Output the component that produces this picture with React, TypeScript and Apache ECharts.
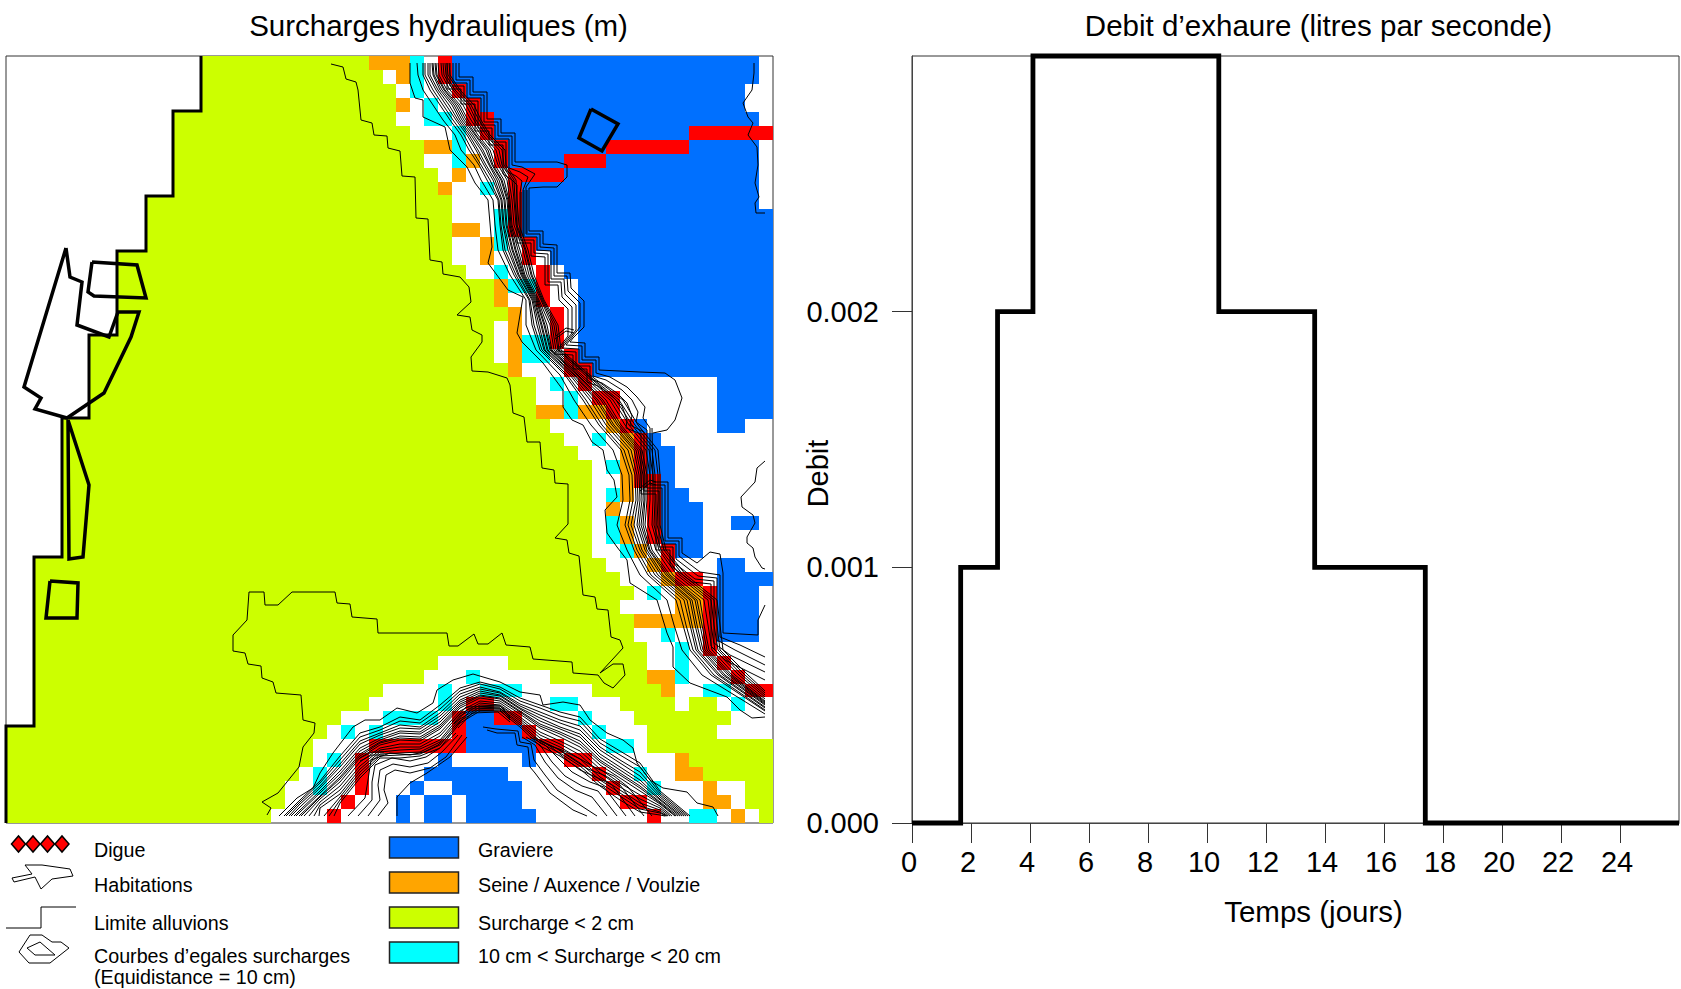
import React, { useEffect, useRef } from "react";
import * as echarts from "echarts";

const FONT = '"Liberation Sans", Arial, sans-serif';

const cellRows = [
"g14 o26 c29 w30 r31 b32 w54",
"g14 w27 o28 c29 w30 r31 b32 w54",
"g14 w28 c29 w30 r32 b33 w53",
"g14 o28 w29 c30 w31 r33 b34 w53",
"g12 w28 c30 w32 r33 b35 w54",
"g12 w29 c32 w33 r34 b35 r49",
"g12 o30 c32 w33 r35 b36 r43 b49 w54",
"g12 w30 c32 o33 w34 r35 b36 r40 b43 w54",
"g12 w31 o32 w33 r36 b40 w54",
"g12 o31 w32 c34 w35 r36 b37 w54",
"g10 w32 r36 b37 w54",
"g10 w32 c35 r36 b37",
"g10 o32 w34 c35 r36 b37",
"g10 w32 o34 c35 w36 r37 b38",
"g8 w32 o34 w35 r37 w38 b39",
"g8 w33 c35 w36 r38 w39 b40",
"g8 o35 c36 r38 w39 b41",
"g8 o35 w36 r38 w39 b41",
"g8 o36 w37 r39 w40 b41",
"g8 w35 o36 w37 r39 w40 b41",
"g6 w35 o36 c37 r39 w40 b41",
"g6 w35 o36 c37 w39 r40 b41",
"g6 o36 w37 r40 b42",
"g6 w38 c39 w40 r41 w42 b51",
"g6 w38 c40 w41 r42 w44 b51",
"g6 o38 c40 o41 r43 w44 b51",
"g4 w39 o43 r44 b45 w46 b51 w53",
"g4 w40 c42 w43 o44 r45 b46 w47",
"g4 w41 o44 r45 b46 w48",
"g4 w42 c43 o44 r45 b46 w48",
"g4 w42 o44 r45 r46 b47 w48",
"g4 w42 c43 o44 w45 r46 b47 w49",
"g4 w42 o43 w44 r46 b47 w50",
"g4 w42 c43 o44 w45 r46 b47 w50 b52 w54",
"g4 w42 c43 o44 w45 r46 b47 w50",
"g4 w42 c44 o45 w46 r47 b48 w50",
"g2 w43 o46 r47 w48 b51 w53",
"g2 w44 o47 r48 w50 b51",
"g2 w45 c46 w47 o48 r50 b51 w54",
"g2 w44 o48 r50 b51 w54",
"g2 o45 r50 b51 w54",
"g2 w45 c47 w48 r50 b51 w54",
"g2 w46 c48 w49 r50 w51",
"g2 w31 g36 w46 c48 w49 r51 w52",
"g2 w30 c33 w34 g39 o46 c48 w49 r52 w53",
"g2 w27 c31 w32 c34 w37 g42 o47 w48 c50 w52 r53",
"g2 w26 c31 w32 r33 w35 c39 w41 g44 w48 g49 w51 c52 w53",
"g2 w24 c27 w31 r32 b33 r35 w37 c41 w42 g45 w52",
"g0 w23 c24 w25 c26 w27 r32 b33 r37 w38 c42 w43 g46 w51",
"g0 w22 r26 b33 r38 w40 c43 w45 g46",
"g0 w22 c23 w24 r25 w26 b31 w32 b37 w38 r40 w42 o48 g49",
"g0 w21 c22 w23 r25 w26 b30 w36 r42 w43 c45 w46 o48 g50",
"g0 w20 c22 w23 r25 w26 b29 w30 b32 w37 r43 w44 c46 w47 o50 w51 g53",
"g0 w20 r24 w25 b28 w29 b30 w32 b33 w37 r44 w46 o50 w52 g53",
"g0 w19 r23 w24 b28 w29 b30 w32 b33 w38 r46 w47 c49 w51 o52 w53 g54",
];

const limitLine = [[201,56],[201,111],[173,111],[173,196],[146,196],[146,251],[117,251],[117,335],[89,335],[89,418],[62,418],[62,557],[34,557],[34,726],[6,726],[6,823]];

const habitationOutlines = [
  [[66,248],[70,277],[82,282],[77,325],[109,337],[118,312],[139,312],[131,337],[104,393],[67,418],[35,409],[41,398],[24,387],[66,248]],
  [[92,262],[137,265],[146,298],[94,296],[88,292],[92,262]],
  [[68,420],[89,485],[83,557],[69,559],[68,420]],
  [[50,581],[78,583],[77,618],[46,618],[50,581]],
  [[591,109],[618,124],[602,151],[579,138],[591,109]],
];

const outerContours = [
  [[410,63],[410,83],[415,98],[423,100],[423,117],[445,127],[450,150],[467,167],[475,183],[488,200],[492,247],[488,263],[508,290],[523,297],[517,333],[522,342],[543,363],[563,390],[563,407],[572,420],[583,425],[592,442],[603,450],[607,470],[614,480],[617,497],[605,510],[607,533],[617,547],[627,560],[630,583],[657,600],[667,633],[673,647],[673,667],[690,683],[727,697],[740,710],[752,718],[765,717]],
  [[459,63],[459,77],[473,77],[473,92],[487,92],[487,119],[501,119],[501,133],[515,133],[515,162],[557,162],[567,165],[567,177],[557,187],[543,187],[529,188],[529,231],[543,231],[543,244],[557,245],[557,273],[570,273],[571,288],[584,301],[584,327],[573,338],[570,342],[585,343],[585,357],[599,357],[599,370],[640,372],[665,373],[675,380],[682,398],[675,420],[667,430],[653,433]],
  [[652,428],[653,482],[668,482],[668,538],[682,538],[682,553],[697,563],[710,552],[720,554],[723,573],[723,633],[758,635],[758,620],[765,605]],
  [[456,63],[456,80],[470,80],[470,95],[484,95],[484,122],[498,122],[498,136],[512,136],[512,165],[522,167],[535,174],[526,187],[526,234],[540,234],[540,247],[554,248],[554,276],[567,276],[568,291],[580,303],[580,327],[566,345],[582,346],[582,360],[596,360],[596,373],[610,377],[627,387],[637,397],[645,407],[643,418],[650,428],[650,485],[665,485],[665,541],[679,541],[679,556],[700,572],[720,575],[720,637],[740,645],[765,657]],
  [[453,63],[453,83],[467,83],[467,98],[481,98],[481,125],[495,125],[495,139],[509,139],[509,168],[520,172],[528,177],[523,190],[523,237],[537,237],[537,250],[551,251],[551,279],[564,279],[565,294],[576,305],[576,330],[562,348],[579,349],[579,363],[593,363],[593,376],[606,380],[622,390],[632,400],[638,412],[636,422],[647,430],[647,488],[662,488],[662,544],[676,544],[676,559],[698,576],[717,578],[717,640],[735,650],[765,665]],
  [[450,63],[450,86],[464,86],[464,101],[478,101],[478,128],[492,128],[492,142],[506,142],[506,171],[516,176],[522,181],[520,193],[520,240],[534,240],[534,253],[548,254],[548,282],[561,282],[562,297],[572,307],[572,333],[558,351],[576,352],[576,366],[590,366],[590,379],[602,383],[617,393],[627,403],[632,416],[630,425],[644,432],[644,491],[659,491],[659,547],[673,547],[673,562],[695,579],[714,581],[714,643],[730,655],[765,672]],
  [[447,63],[447,89],[461,89],[461,104],[475,104],[475,131],[489,131],[489,145],[503,145],[503,174],[512,180],[517,185],[517,243],[531,243],[531,256],[545,257],[545,285],[558,285],[559,300],[568,309],[568,336],[554,354],[573,355],[573,369],[587,369],[587,382],[598,386],[612,396],[622,406],[627,420],[626,428],[641,434],[641,494],[656,494],[656,550],[670,550],[670,565],[692,582],[711,584],[711,646],[725,660],[765,680]],
  [[754,63],[754,73],[752,90],[743,103],[748,117],[753,123],[748,135],[757,147],[758,165],[755,183],[759,197],[755,203],[756,213],[765,213]],
  [[765,461],[757,468],[755,482],[741,497],[742,507],[753,515],[755,523],[747,537],[747,543],[753,548],[755,557],[762,568],[765,569]],
  [[331,64],[343,67],[346,79],[356,82],[358,90],[361,120],[372,123],[374,135],[387,136],[388,148],[400,151],[402,176],[415,177],[416,218],[428,219],[430,260],[442,262],[443,274],[460,277],[469,287],[471,302],[457,315],[470,317],[472,330],[482,335],[482,342],[471,357],[472,371],[488,372],[507,378],[510,385],[513,413],[524,417],[527,442],[540,442],[542,468],[554,470],[555,483],[568,484],[568,524],[555,538],[567,540],[569,553],[579,556],[583,595],[595,597],[597,609],[608,610],[611,637],[620,640],[623,648],[600,673],[613,664],[623,664],[625,675],[613,688],[604,683],[598,675],[573,673],[572,662],[533,659],[530,647],[506,645],[502,633],[488,644],[478,644],[474,634],[458,646],[449,646],[447,633],[378,633],[377,619],[352,617],[350,604],[337,603],[335,592],[292,592],[278,605],[265,605],[264,592],[249,592],[247,620],[233,635],[233,651],[245,653],[248,664],[261,666],[262,678],[273,682],[276,693],[301,695],[303,720],[315,723],[314,733],[303,747],[299,767],[278,793],[262,802],[271,808],[267,815]],
  [[279,816],[297,798],[313,788],[320,773],[333,753],[353,727],[365,720],[380,720],[397,708],[417,713],[433,703],[437,690],[453,680],[473,674],[500,682],[520,692],[540,695],[543,705],[563,702],[580,705],[590,720],[607,733],[623,740],[633,748],[637,763],[650,780],[663,788],[687,792],[697,803],[713,807],[718,816]],
  [[397,816],[397,797],[410,783],[427,773],[450,757],[467,737]],
  [[378,816],[388,803],[384,790],[386,775],[395,770],[410,773],[430,768],[446,757],[462,735]],
  [[368,816],[380,800],[378,785],[380,770],[393,764],[410,767],[428,763],[442,752],[458,735]],
  [[358,816],[372,800],[372,782],[375,765],[392,758],[410,761],[426,757],[440,748],[456,733]],
  [[348,816],[365,798],[368,780],[371,760],[390,753],[410,755],[424,752],[438,745],[453,732]],
  [[487,730],[497,733],[515,733],[517,745],[528,747],[530,767],[535,773],[550,793],[573,810],[587,816]],
  [[483,727],[496,729],[518,731],[520,742],[531,744],[534,760],[545,775],[557,790],[577,803],[597,816]],
  [[522,737],[535,745],[545,762],[558,778],[575,790],[592,797],[607,816]],
  [[526,737],[540,745],[552,762],[565,776],[582,786],[598,791],[617,816]],
  [[530,737],[545,745],[560,760],[572,772],[590,782],[604,787],[626,816]],
  [[534,737],[550,746],[567,760],[580,770],[598,778],[612,785],[635,816]],
  [[540,740],[556,748],[574,760],[588,769],[606,776],[620,785],[644,816]],
  [[548,745],[562,750],[582,760],[596,768],[614,776],[628,787],[652,816]],
  [[521,192],[521,236]],[[524,190],[524,236]],[[527,190],[527,233]],
  [[452,722],[466,707],[500,706],[510,716]],[[454,724],[468,709],[500,708],[510,718]],[[456,726],[470,711],[500,710],[510,720]],[[458,728],[472,713],[498,712],[510,722]],
  [[360,758],[372,752],[384,752]],[[360,761],[372,755],[384,755]],
  [[556,336],[566,328],[574,330]],[[555,339],[566,331],[574,333]],
  [[640,488],[650,480],[656,482]],[[640,491],[650,483],[656,485]],
];

// River west flank: each row is one height on the map, holding the x of eleven contours.
const riverStations = [63,75,90,105,120,135,150,165,180,200,225,250,275,300,325,350,375,400,425,450,475,500,525,550,575,600,625,650,675];
const riverRows = [
[417,423,428,432,435,438,441,443,445,447,449],
[418,423,428,433,436,439,442,444,446,448,450],
[423,430,436,440,444,447,450,453,455,458,460],
[433,440,446,452,456,460,463,466,469,471,474],
[443,450,456,460,464,468,471,474,476,479,481],
[455,461,467,471,475,478,481,483,486,488,490],
[461,469,476,481,486,490,493,496,499,502,505],
[474,479,484,489,492,495,498,500,502,504,506],
[481,487,493,497,501,504,507,509,512,514,516],
[493,498,501,504,507,509,510,512,514,515,517],
[495,500,503,506,509,511,512,514,516,517,519],
[498,503,508,512,515,518,520,523,525,526,528],
[510,514,518,521,523,525,527,529,531,532,534],
[526,529,532,534,536,538,539,541,542,543,544],
[526,532,537,541,544,547,550,552,554,556,558],
[536,540,544,547,550,552,554,556,558,559,561],
[560,565,570,574,577,580,582,585,587,588,590],
[574,583,590,596,601,606,610,613,616,619,623],
[591,599,606,612,617,621,625,629,632,635,638],
[613,621,628,634,638,642,646,649,652,655,658],
[622,629,635,639,643,647,650,653,655,658,660],
[623,630,636,640,644,647,650,653,655,658,660],
[617,625,631,637,641,645,648,652,654,657,660],
[627,634,640,645,649,652,656,659,661,664,666],
[640,648,655,661,666,670,673,677,680,683,686],
[667,676,684,690,695,700,704,708,711,714,717],
[674,683,690,695,700,704,708,711,714,717,720],
[682,690,696,701,705,709,712,715,718,720,723],
[702,711,718,723,728,732,735,739,742,745,748],
];
const riverEnds = [714,711,708,705,703,701,699,697,695,693,691];
const riverRowsB = [
[425,430,433,436],
[425,430,434,437],
[433,438,442,445],
[443,449,454,458],
[453,458,462,466],
[464,469,473,476],
[472,478,483,488],
[481,486,490,493],
[490,495,499,502],
[499,502,505,508],
[501,504,507,510],
[505,510,513,516],
[516,519,522,524],
[530,533,535,537],
[534,539,542,545],
[542,545,548,551],
[567,572,575,578],
[586,593,598,603],
[602,609,614,619],
[624,631,636,640],
[632,637,641,645],
[633,638,642,645],
[628,634,639,643],
[637,642,647,650],
[651,658,663,668],
[680,687,692,697],
[686,692,697,702],
[693,698,703,707],
[714,720,725,730],
];
const riverEndsB = [710,707,704,702];

// South arc: each row is one position across the map, holding the y of eleven contours.
const arcStarts = [284,289,294,299,304,309,314,319,324,329,334];
const arcStations = [300,320,340,360,380,400,420,440,460,480,500,520,540,560,580,600,620,640,660];
const arcRows = [
[800,804,810,null,null,null,null,null,null,null,null],
[781,786,791,796,799,802,805,808,null,null,null],
[756,764,771,777,782,786,790,794,797,800,803],
[733,741,748,754,758,762,766,769,772,775,778],
[727,733,738,742,745,748,750,752,754,756,758],
[717,725,731,736,740,744,747,750,753,755,758],
[720,727,732,737,741,744,747,749,752,754,756],
[705,713,719,725,729,733,736,740,742,745,748],
[688,694,700,704,708,711,714,716,719,721,723],
[682,687,691,695,698,701,703,705,707,709,711],
[687,692,695,698,701,703,705,706,708,709,711],
[698,704,708,711,714,717,719,721,723,725,727],
[705,712,718,724,728,732,735,738,741,743,746],
[712,720,727,732,737,741,744,747,750,753,756],
[717,726,734,741,747,751,755,759,763,766,769],
[739,747,754,760,765,769,773,777,780,783,786],
[751,760,767,773,778,783,787,790,793,796,800],
[763,772,780,786,791,795,799,803,806,809,812],
[791,795,799,802,804,806,808,810,812,813,815],
];
const arcEnds = [690,686,682,678,675,672,670,668,667,666,665];
const arcStartsB = [286,291,296,301];
const arcRowsB = [
[802,807,812,null],
[783,788,793,797],
[760,767,774,779],
[737,744,751,756],
[730,735,740,743],
[721,728,733,738],
[723,729,734,739],
[709,716,722,727],
[691,697,702,706],
[684,689,693,696],
[689,693,696,699],
[701,706,709,712],
[708,715,721,726],
[716,723,729,734],
[721,730,737,744],
[743,750,757,762],
[755,763,770,775],
[767,776,783,788],
[793,797,800,803],
];
const arcEndsB = [688,684,680,676];

const dischargeTime = [0,1.65,1.65,2.9,2.9,4.1,4.1,10.4,10.4,13.65,13.65,17.4,17.4,26];
const dischargeFlow = [0,0,0.001,0.001,0.002,0.002,0.003,0.003,0.002,0.002,0.001,0.001,0,0];
const timeTicks = [0,2,4,6,8,10,12,14,16,18,20,22,24];
const flowTicks = [0,0.001,0.002];

const legendLeft = [["Digue",850],["Habitations",885],["Limite alluvions",923],["Courbes d\u2019egales surcharges",956],["(Equidistance = 10 cm)",977]] as const;
const legendRight = [["Graviere",850,"b"],["Seine / Auxence / Voulzie",885,"o"],["Surcharge < 2 cm",923,"g"],["10 cm < Surcharge < 20 cm",956,"c"]] as const;
const legendBoxes = [837,872,907,942];
const digueDiamonds = [18.5,33,47.5,62];

const COLORS: Record<string,string> = { g:"#CCFF00", b:"#0070FF", o:"#FFA500", c:"#00FFFF", r:"#FF0000" };
const KINDS = "gbocr";
const MAP_X0 = 6, MAP_Y0 = 56, MAP_SIZE = 767, N = 55;

function cellRuns() {
  const runs: number[][] = [];
  cellRows.forEach((row, r) => {
    const parts = row.split(" ");
    parts.forEach((p, i) => {
      const k = p[0];
      const from = +p.slice(1);
      const to = i + 1 < parts.length ? +parts[i + 1].slice(1) : N;
      if (k !== "w" && to > from) runs.push([from, to, r, KINDS.indexOf(k)]);
    });
  });
  return runs;
}

function contourLines() {
  const lines: number[][][] = outerContours.map((l) => l);
  const addRiver = (rows: number[][], ends: number[]) => ends.forEach((end, k) => {
    const l = riverStations.map((y, i) => [rows[i][k], y]);
    l.push([765, end]);
    lines.push(l);
  });
  const addArc = (starts: number[], rows: (number | null)[][], ends: number[]) => ends.forEach((end, k) => {
    const l: number[][] = [[starts[k], 816]];
    arcStations.forEach((x, i) => {
      const y = rows[i][k];
      if (y !== null) l.push([x, y as number]);
    });
    l.push([end, 816]);
    lines.push(l);
  });
  addRiver(riverRows, riverEnds);
  addRiver(riverRowsB, riverEndsB);
  addArc(arcStarts, arcRows, arcEnds);
  addArc(arcStartsB, arcRowsB, arcEndsB);
  return lines;
}

export default function App() {
  const ref = useRef<HTMLDivElement>(null);
  useEffect(() => {
    const chart = echarts.init(ref.current!, undefined, { renderer: "svg" });
    const step = MAP_SIZE / N;
    const mapLine = (data: number[][], width: number) => ({
      type: "line", xAxisIndex: 0, yAxisIndex: 0, data, symbol: "none", silent: true,
      lineStyle: { color: "#000", width, join: "miter" }, z: width > 1.5 ? 5 : 4,
    });
    const text = (t: string, x: number, y: number) => ({
      type: "text", x, y, silent: true,
      style: { text: t, fontFamily: FONT, fontSize: 19.7, fill: "#000", textAlign: "left", textVerticalAlign: "middle" },
    });
    const poly = (points: number[][], fill: string, stroke: string, lineWidth: number) => ({
      type: "polygon", silent: true, shape: { points }, style: { fill, stroke, lineWidth },
    });
    const graphic: any[] = [
      ...legendLeft.map(([t, y]) => text(t, 94, y)),
      ...legendRight.map(([t, y]) => text(t, 478, y)),
      ...legendRight.map(([, , k], i) => ({
        type: "rect", silent: true, shape: { x: 389.5, y: legendBoxes[i], width: 69, height: 21 },
        style: { fill: COLORS[k], stroke: "#222", lineWidth: 1.5 },
      })),
      ...digueDiamonds.map((x) => poly([[x - 7, 844], [x, 836], [x + 7, 844], [x, 852]], "#FF0000", "#000", 1.5)),
      poly([[12,878],[32,874],[25,865],[42,865],[70,869],[73,876],[52,879],[41,889],[35,877],[14,882]], "none", "#000", 1),
      { type: "polyline", silent: true, shape: { points: [[6,928],[41,928],[41,907],[76,907]] }, style: { fill: "none", stroke: "#000", lineWidth: 1 } },
      poly([[19,952],[30,935],[42,935],[52,942],[61,942],[69,948],[50,963],[29,963]], "none", "#000", 1),
      poly([[27,948],[40,942],[55,955],[35,955]], "none", "#000", 1),
    ];
    chart.setOption({
      animation: false,
      textStyle: { fontFamily: FONT },
      title: [
        { text: "Surcharges hydrauliques (m)", left: 433.5, top: 5, textAlign: "center", textStyle: { fontFamily: FONT, fontSize: 29.5, fontWeight: "normal", color: "#000" } },
        { text: "Debit d\u2019exhaure (litres par seconde)", left: 1313.5, top: 5, textAlign: "center", textStyle: { fontFamily: FONT, fontSize: 29.5, fontWeight: "normal", color: "#000" } },
      ],
      grid: [
        { left: MAP_X0, top: MAP_Y0, width: MAP_SIZE, height: MAP_SIZE, show: true, borderColor: "#333", borderWidth: 1, backgroundColor: "#fff" },
        { left: 912, top: 56, width: 767, height: 767, show: true, borderColor: "#333", borderWidth: 1, backgroundColor: "#fff" },
      ],
      xAxis: [
        { gridIndex: 0, type: "value", min: MAP_X0, max: MAP_X0 + MAP_SIZE, show: false },
        { gridIndex: 1, type: "value", min: 0, max: 26, name: "Temps (jours)", nameLocation: "middle", nameGap: 73,
          nameTextStyle: { fontFamily: FONT, fontSize: 29.5, color: "#000", padding: [0, 0, 0, 36] },
          splitLine: { show: false },
          axisLine: { onZero: false, lineStyle: { color: "#444", width: 1 } },
          axisTick: { length: 20, customValues: timeTicks, lineStyle: { color: "#333", width: 1 } },
          axisLabel: { customValues: timeTicks, margin: 24, fontFamily: FONT, fontSize: 29, color: "#000", padding: [0, 6, 0, 0] } },
      ],
      yAxis: [
        { gridIndex: 0, type: "value", inverse: true, min: MAP_Y0, max: MAP_Y0 + MAP_SIZE, show: false },
        { gridIndex: 1, type: "value", min: 0, max: 0.003, name: "Debit", nameLocation: "middle", nameGap: 80, nameRotate: 90, nameMoveOverlap: false,
          nameTextStyle: { fontFamily: FONT, fontSize: 29, color: "#000", padding: [0, 68, 0, 0] },
          splitLine: { show: false },
          axisLine: { show: true, lineStyle: { color: "#444", width: 1 } },
          axisTick: { show: true, length: 20, customValues: flowTicks, lineStyle: { color: "#333", width: 1 } },
          axisLabel: { customValues: flowTicks, margin: 33, fontFamily: FONT, fontSize: 29, color: "#000", formatter: (v: number) => v.toFixed(3) } },
      ],
      series: [
        {
          type: "custom", xAxisIndex: 0, yAxisIndex: 0, silent: true, z: 1, clip: false,
          data: cellRuns(),
          renderItem: (_: any, api: any) => {
            const a = api.coord([MAP_X0 + api.value(0) * step, MAP_Y0 + api.value(2) * step]);
            const b = api.coord([MAP_X0 + api.value(1) * step, MAP_Y0 + (api.value(2) + 1) * step]);
            const x0 = Math.round(a[0]), y0 = Math.round(a[1]), x1 = Math.round(b[0]), y1 = Math.round(b[1]);
            return {
              type: "rect",
              shape: { x: x0, y: y0, width: x1 - x0, height: y1 - y0 },
              style: { fill: COLORS[KINDS[api.value(3)]], stroke: null },
            };
          },
        },
        ...contourLines().map((l) => mapLine(l, 1)),
        { ...mapLine(limitLine, 3), clip: false },
        ...habitationOutlines.map((l) => mapLine(l, 3.5)),
        {
          type: "line", xAxisIndex: 1, yAxisIndex: 1, symbol: "none", silent: true, clip: false, z: 6,
          data: dischargeTime.map((t, i) => [t, dischargeFlow[i]]),
          lineStyle: { color: "#000", width: 4.8, join: "miter" },
        },
      ],
      graphic,
    });
    return () => chart.dispose();
  }, []);
  return <div ref={ref} style={{ position: "fixed", left: 0, top: 0, width: 1681, height: 989, background: "#fff" }} />;
}
